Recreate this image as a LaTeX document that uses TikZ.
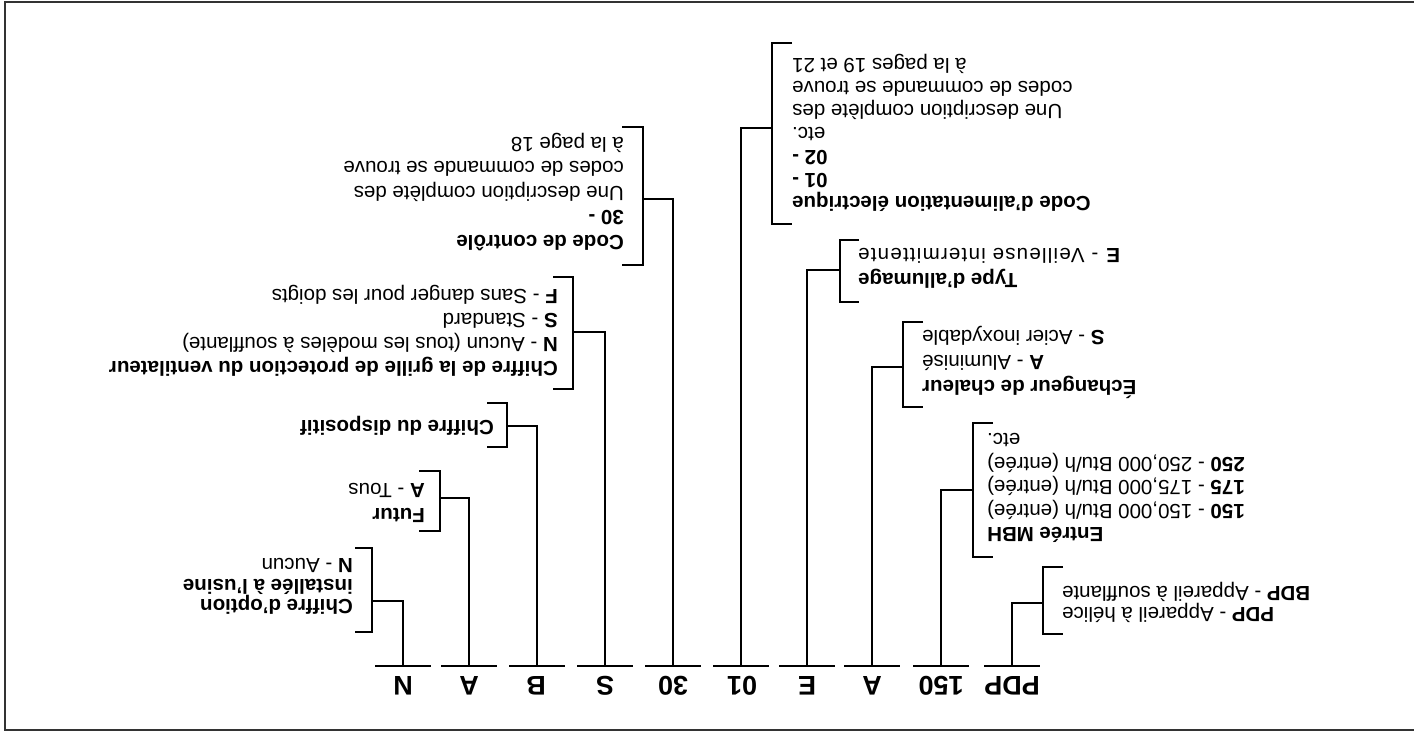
\documentclass[tikz,border=0pt]{standalone}
\usepackage{fontspec}
\setmainfont{Liberation Sans}
\begin{document}
\begin{tikzpicture}[x=1pt,y=-1pt,
  conn/.style={line width=2.4pt, black},
  codelbl/.style={rotate=180, inner sep=0pt, font=\fontsize{27}{30}\selectfont\bfseries},
  rtxt/.style={rotate=180, align=right, anchor=east, inner sep=0pt, font=\fontsize{20.5}{#1}\selectfont},
  ltxt/.style={rotate=180, align=left, anchor=west, inner sep=0pt, font=\fontsize{20.5}{#1}\selectfont}]
\useasboundingbox (0,0) rectangle (1414,731);
\draw[line width=2pt, black!80] (4.5,1.5) rectangle (1425,729.5);

% code labels
\node[codelbl] (cN)   at (403,686) {N};
\node[codelbl] (cA1)  at (469,686) {A};
\node[codelbl] (cB)   at (536,686) {B};
\node[codelbl] (cS)   at (605,686) {S};
\node[codelbl] (c30)  at (673,686) {30};
\node[codelbl] (c01)  at (742,686) {01};
\node[codelbl] (cE)   at (807,686) {E};
\node[codelbl] (cA2)  at (872,686) {A};
\node[codelbl] (c150) at (941,686) {150};
\node[codelbl] (cPDP) at (1012,686) {PDP};

% underlines
\foreach \xx in {403,469,537,605,673,741,807,872,941,1012}
  \draw[conn] (\xx-28,666) -- (\xx+28,666);

% coordinates at the top of each underline
\coordinate (uN) at (403,666);
\coordinate (uA1) at (469,666);
\coordinate (uB) at (537,666);
\coordinate (uS) at (605,666);
\coordinate (u30) at (673,666);
\coordinate (u01) at (741,666);
\coordinate (uE) at (807,666);
\coordinate (uA2) at (872,666);
\coordinate (u150) at (941,666);
\coordinate (uPDP) at (1012,666);

% bracket junctions
\coordinate (jN) at (372,601);
\coordinate (jA1) at (440,498);
\coordinate (jB) at (507,426);
\coordinate (jS) at (573,332);
\coordinate (j30) at (643,199);
\coordinate (j01) at (772,128);
\coordinate (jE) at (840,270);
\coordinate (jA2) at (903,367);
\coordinate (j150) at (973,490);
\coordinate (jPDP) at (1043,603);

% connectors
\foreach \k in {N,A1,B,S,30,01,E,A2,150,PDP}
  \draw[conn] (u\k) |- (j\k);

% brackets (left side, ticks to the left)
\draw[conn] (355,548) -- (372,548) -- (372,632) -- (355,632);
\draw[conn] (419,471) -- (440,471) -- (440,531) -- (419,531);
\draw[conn] (487,403) -- (507,403) -- (507,447) -- (487,447);
\draw[conn] (553,277) -- (573,277) -- (573,389) -- (553,389);
\draw[conn] (622,127) -- (643,127) -- (643,265) -- (622,265);
% brackets (right side, ticks to the right)
\draw[conn] (792,43) -- (772,43) -- (772,224) -- (792,224);
\draw[conn] (859,240) -- (840,240) -- (840,302) -- (859,302);
\draw[conn] (923,322) -- (903,322) -- (903,407) -- (923,407);
\draw[conn] (993,423) -- (973,423) -- (973,557) -- (993,557);
\draw[conn] (1063,567) -- (1043,567) -- (1043,634) -- (1063,634);

% texts, left side
\node[ltxt=20.5] (tN) at (353,586.5) {\textbf{Chiffre d'option}\\\textbf{installée à l'usine}\\\textbf{N} - Aucun};
\node[ltxt=25] (tA1) at (425,502.5) {\textbf{Futur}\\\textbf{A} - Tous};
\node[ltxt=23] (tB) at (494,426) {\textbf{Chiffre du dispositif}};
\node[ltxt=24] (tS) at (558,331) {\textbf{Chiffre de la grille de protection du ventilateur}\\\textbf{N} - Aucun (tous les modèles à soufflante)\\\textbf{S} - Standard\\\textbf{F} - Sans danger pour les doigts};
\node[ltxt=24.5] (t30) at (624,192) {\textbf{Code de contrôle}\\\textbf{30 -}\\Une description complète des\\codes de commande se trouve\\à la page 18};

% texts, right side
\node[rtxt=23] (t01) at (792,132.5) {\textbf{Code d'alimentation électrique}\\\textbf{01 -}\\\textbf{02 -}\\etc.\\Une description complète des\hspace*{5pt}\\codes de commande se trouve\\à la pages 19 et 21};
\node[rtxt=25] (tE) at (858,268) {\textbf{Type d'allumage}\\{\addfontfeature{LetterSpace=6}\textbf{E} - Veilleuse intermittente}};
\node[rtxt=25] (tA2) at (922,362) {\textbf{Échangeur de chaleur}\\\textbf{A} - Aluminisé\\\textbf{S} - Acier inoxydable};
\node[rtxt=23.5] (t150) at (987,488) {\textbf{Entrée MBH}\\\textbf{150} - 150,000 Btu/h (entrée)\\\textbf{175} - 175,000 Btu/h (entrée)\\\textbf{250} - 250,000 Btu/h (entrée)\\etc.};
\node[rtxt=21] (tPDP) at (1062,602.5) {\textbf{PDP} - Appareil à hélice\\\textbf{BDP} - Appareil à soufflante};
\end{tikzpicture}
\end{document}
